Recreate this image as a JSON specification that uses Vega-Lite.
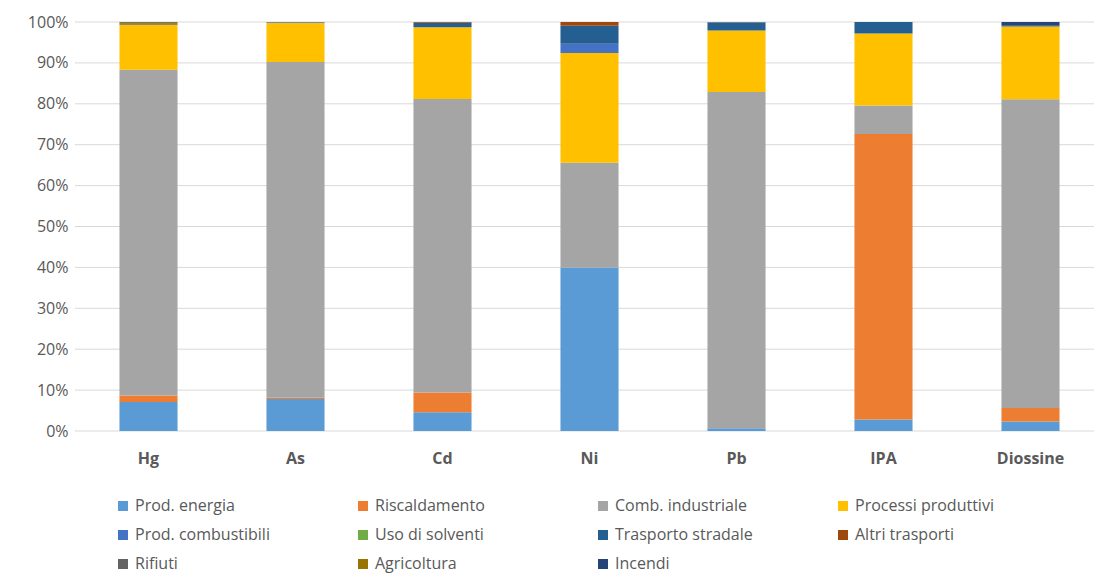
{
  "$schema": "https://vega.github.io/schema/vega-lite/v6.json",
  "autosize": "none",
  "width": 1029,
  "height": 409,
  "padding": {"left": 75, "top": 22, "right": 0, "bottom": 143},
  "config": {
    "font": "Open Sans",
    "view": {"stroke": null},
    "axis": {"domain": false, "ticks": false, "grid": false}
  },
  "data": {
    "values": [
      {"inquinante": "Hg", "settore": "Prod. energia", "quota": 7.1},
      {"inquinante": "Hg", "settore": "Riscaldamento", "quota": 1.6},
      {"inquinante": "Hg", "settore": "Comb. industriale", "quota": 79.6},
      {"inquinante": "Hg", "settore": "Processi produttivi", "quota": 11.0},
      {"inquinante": "Hg", "settore": "Agricoltura", "quota": 0.3},
      {"inquinante": "Hg", "settore": "Rifiuti", "quota": 0.4},
      {"inquinante": "As", "settore": "Prod. energia", "quota": 7.8},
      {"inquinante": "As", "settore": "Riscaldamento", "quota": 0.3},
      {"inquinante": "As", "settore": "Comb. industriale", "quota": 82.1},
      {"inquinante": "As", "settore": "Processi produttivi", "quota": 9.6},
      {"inquinante": "As", "settore": "Prod. combustibili", "quota": 0.2},
      {"inquinante": "Cd", "settore": "Prod. energia", "quota": 4.6},
      {"inquinante": "Cd", "settore": "Riscaldamento", "quota": 4.8},
      {"inquinante": "Cd", "settore": "Comb. industriale", "quota": 71.8},
      {"inquinante": "Cd", "settore": "Processi produttivi", "quota": 17.5},
      {"inquinante": "Cd", "settore": "Trasporto stradale", "quota": 1.1},
      {"inquinante": "Cd", "settore": "Altri trasporti", "quota": 0.2},
      {"inquinante": "Ni", "settore": "Prod. energia", "quota": 40.0},
      {"inquinante": "Ni", "settore": "Comb. industriale", "quota": 25.6},
      {"inquinante": "Ni", "settore": "Processi produttivi", "quota": 26.8},
      {"inquinante": "Ni", "settore": "Prod. combustibili", "quota": 2.3},
      {"inquinante": "Ni", "settore": "Trasporto stradale", "quota": 4.4},
      {"inquinante": "Ni", "settore": "Altri trasporti", "quota": 0.9},
      {"inquinante": "Pb", "settore": "Prod. energia", "quota": 0.7},
      {"inquinante": "Pb", "settore": "Comb. industriale", "quota": 82.2},
      {"inquinante": "Pb", "settore": "Processi produttivi", "quota": 15.0},
      {"inquinante": "Pb", "settore": "Trasporto stradale", "quota": 2.0},
      {"inquinante": "Pb", "settore": "Rifiuti", "quota": 0.1},
      {"inquinante": "IPA", "settore": "Prod. energia", "quota": 2.8},
      {"inquinante": "IPA", "settore": "Riscaldamento", "quota": 69.8},
      {"inquinante": "IPA", "settore": "Comb. industriale", "quota": 7.0},
      {"inquinante": "IPA", "settore": "Processi produttivi", "quota": 17.6},
      {"inquinante": "IPA", "settore": "Trasporto stradale", "quota": 2.8},
      {"inquinante": "Diossine", "settore": "Prod. energia", "quota": 2.3},
      {"inquinante": "Diossine", "settore": "Riscaldamento", "quota": 3.3},
      {"inquinante": "Diossine", "settore": "Comb. industriale", "quota": 75.5},
      {"inquinante": "Diossine", "settore": "Processi produttivi", "quota": 17.8},
      {"inquinante": "Diossine", "settore": "Trasporto stradale", "quota": 0.2},
      {"inquinante": "Diossine", "settore": "Incendi", "quota": 0.9}
    ]
  },
  "layer": [
    {
      "mark": {"type": "rule", "color": "#d9d9d9", "strokeWidth": 1},
      "data": {"values": [{"v": 0}, {"v": 10}, {"v": 20}, {"v": 30}, {"v": 40}, {"v": 50}, {"v": 60}, {"v": 70}, {"v": 80}, {"v": 90}, {"v": 100}]},
      "encoding": {
        "y": {
          "field": "v",
          "type": "quantitative",
          "scale": {"domain": [0, 100], "nice": false},
          "axis": {"title": null, "values": [0, 10, 20, 30, 40, 50, 60, 70, 80, 90, 100], "labelExpr": "datum.value + '%'", "labelFontSize": 16, "labelColor": "#595959", "labelPadding": 7}
        }
      }
    },
    {
      "transform": [
        {"calculate": "indexof(['Prod. energia', 'Riscaldamento', 'Comb. industriale', 'Processi produttivi', 'Prod. combustibili', 'Uso di solventi', 'Trasporto stradale', 'Altri trasporti', 'Rifiuti', 'Agricoltura', 'Incendi'], datum.settore)", "as": "ordine"}
      ],
      "mark": {"type": "bar"},
      "encoding": {
        "x": {
          "field": "inquinante",
          "type": "nominal",
          "sort": ["Hg", "As", "Cd", "Ni", "Pb", "IPA", "Diossine"],
          "scale": {"paddingInner": 0.605, "paddingOuter": 0.3025},
          "axis": {"title": null, "labelAngle": 0, "labelFontSize": 16, "labelFontWeight": "bold", "labelColor": "#595959", "labelPadding": 19}
        },
        "y": {
          "field": "quota",
          "type": "quantitative",
          "stack": "zero"
        },
        "color": {
          "field": "settore",
          "type": "nominal",
          "sort": ["Prod. energia", "Riscaldamento", "Comb. industriale", "Processi produttivi", "Prod. combustibili", "Uso di solventi", "Trasporto stradale", "Altri trasporti", "Rifiuti", "Agricoltura", "Incendi"],
          "scale": {
            "domain": ["Prod. energia", "Riscaldamento", "Comb. industriale", "Processi produttivi", "Prod. combustibili", "Uso di solventi", "Trasporto stradale", "Altri trasporti", "Rifiuti", "Agricoltura", "Incendi"],
            "range": ["#5b9bd5", "#ed7d31", "#a5a5a5", "#ffc000", "#4472c4", "#70ad47", "#255e91", "#9e480e", "#636363", "#997300", "#264478"]
          },
          "legend": {
            "title": null,
            "orient": "none",
            "legendX": 40,
            "legendY": 476,
            "direction": "horizontal",
            "columns": 4,
            "gridAlign": "all",
            "columnPadding": 81,
            "rowPadding": 13,
            "symbolType": "square",
            "symbolSize": 100,
            "symbolStrokeWidth": 0,
            "labelFontSize": 16,
            "labelColor": "#595959",
            "labelOffset": 4,
            "labelLimit": 300
          }
        },
        "order": {"field": "ordine", "type": "quantitative", "sort": "ascending"}
      }
    }
  ]
}
